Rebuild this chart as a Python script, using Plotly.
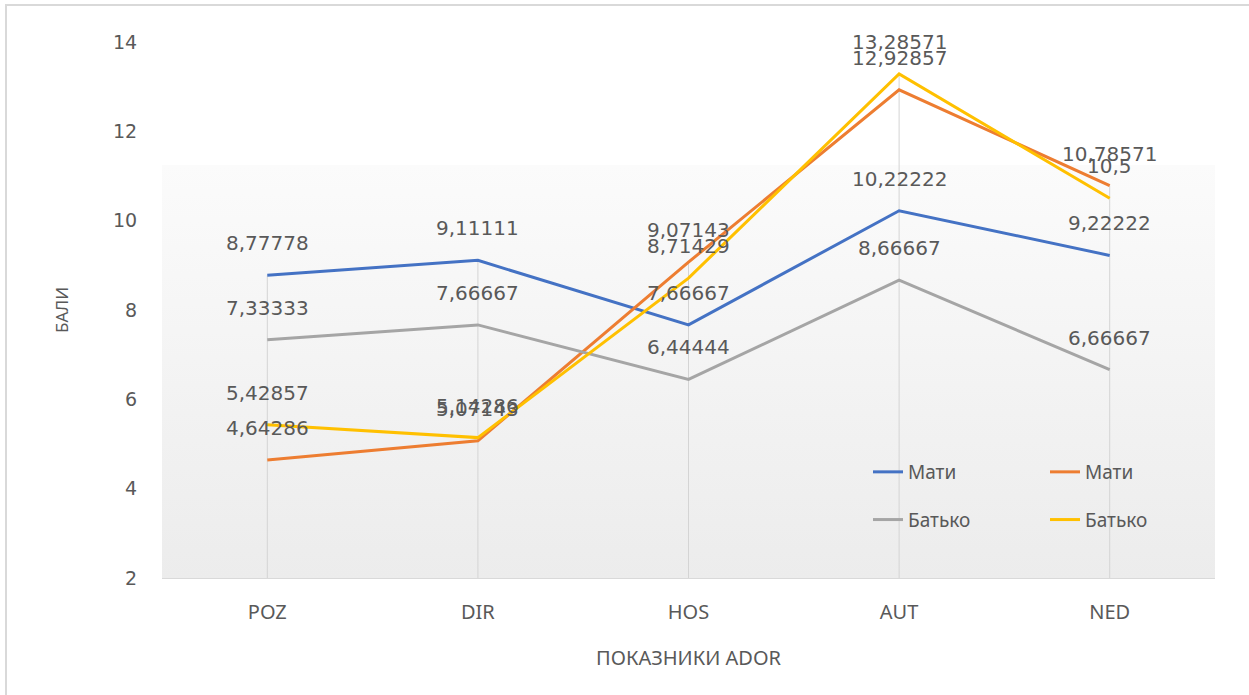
import base64
import plotly.graph_objects as go

# ---- data ----
categories = ["POZ", "DIR", "HOS", "AUT", "NED"]
mati_1 = [8.77778, 9.11111, 7.66667, 10.22222, 9.22222]
mati_2 = [4.64286, 5.07143, 9.07143, 12.92857, 10.78571]
batko_1 = [7.33333, 7.66667, 6.44444, 8.66667, 6.66667]
batko_2 = [5.42857, 5.14286, 8.71429, 13.28571, 10.5]
series_names = ["Мати", "Мати", "Батько", "Батько"]
y_ticks = [2, 4, 6, 8, 10, 12, 14]
x_title = "ПОКАЗНИКИ ADOR"
y_title = "БАЛИ"

# ---- figure geometry ----
W, H = 1249, 695
L, R, T, B = 162, 34, 42, 117
PW, PH = W - L - R, H - T - B


def px_x(p):
    return (p - L) / PW


def px_y(p):
    return (H - B - p) / PH


def fmt(v):
    s = ("%.5f" % v).rstrip("0").rstrip(".")
    return s.replace(".", ",")


series = [
    (series_names[0], mati_1, "#4472C4", "legend"),
    (series_names[1], mati_2, "#ED7D31", "legend2"),
    (series_names[2], batko_1, "#A5A5A5", "legend"),
    (series_names[3], batko_2, "#FFC000", "legend2"),
]

fig = go.Figure()

# drop lines from the highest value of each category to the axis
all_vals = [mati_1, mati_2, batko_1, batko_2]
dx, dy = [], []
for i, c in enumerate(categories):
    top = max(s[i] for s in all_vals)
    dx += [c, c, None]
    dy += [y_ticks[0], top, None]
fig.add_trace(go.Scatter(x=dx, y=dy, mode="lines", line=dict(color="#d4d4d4", width=1),
                         showlegend=False, hoverinfo="skip"))

for k, (name, vals, color, lg) in enumerate(series):
    fig.add_trace(go.Scatter(
        x=categories, y=vals, mode="lines", name=name,
        line=dict(color=color, width=3),
        legend=lg, legendgroup="g%d" % k, hoverinfo="skip"))

annotations = []
for name, vals, color, lg in series:
    for c, v in zip(categories, vals):
        annotations.append(dict(
            x=c, y=v, xref="x", yref="y", text=fmt(v), showarrow=False,
            yshift=32, font=dict(family="DejaVu Sans", size=20, color="#595959")))

svg = ('<svg xmlns="http://www.w3.org/2000/svg" width="100" height="100" preserveAspectRatio="none">'
       '<defs><linearGradient id="g" x1="0" y1="0" x2="0" y2="1">'
       '<stop offset="0" stop-color="#fbfbfb"/><stop offset="1" stop-color="#ececec"/>'
       '</linearGradient></defs><rect width="100" height="100" fill="url(#g)"/></svg>')
src = "data:image/svg+xml;base64," + base64.b64encode(svg.encode()).decode()
grad_top = px_y(165)

fig.update_layout(
    width=W, height=H,
    margin=dict(l=L, r=R, t=T, b=B),
    paper_bgcolor="white", plot_bgcolor="rgba(0,0,0,0)",
    font=dict(family="Noto Sans", color="#595959"),
    showlegend=True,
    images=[dict(source=src, xref="paper", yref="paper", x=0, y=grad_top,
                 sizex=1, sizey=grad_top, sizing="stretch", layer="below",
                 xanchor="left", yanchor="top")],
    shapes=[dict(type="rect", xref="paper", yref="paper",
                 x0=px_x(6), x1=px_x(1256), y0=px_y(5), y1=px_y(705),
                 line=dict(color="#d9d9d9", width=2), fillcolor="rgba(0,0,0,0)", layer="below")],
    annotations=annotations,
    xaxis=dict(type="category", range=[-0.5, len(categories) - 0.5],
               showgrid=False, zeroline=False, showline=True, linecolor="#d9d9d9", linewidth=1,
               ticks="outside", ticklen=16, tickcolor="rgba(0,0,0,0)",
               tickfont=dict(family="Noto Sans", size=20, color="#595959"),
               title=dict(text=x_title, standoff=26,
                          font=dict(family="Noto Sans", size=20, color="#595959"))),
    yaxis=dict(range=[y_ticks[0], y_ticks[-1]], tickvals=y_ticks,
               showgrid=False, zeroline=False, showline=False,
               ticks="outside", ticklen=20, tickcolor="rgba(0,0,0,0)",
               tickfont=dict(family="DejaVu Sans", size=19, color="#595959"),
               title=dict(text=y_title, standoff=40,
                          font=dict(family="Noto Sans", size=17, color="#595959"))),
    legend=dict(x=px_x(868), y=px_y(453), xanchor="left", yanchor="top",
                bgcolor="rgba(0,0,0,0)", tracegroupgap=20,
                font=dict(family="Noto Sans", size=19, color="#595959")),
    legend2=dict(x=px_x(1045), y=px_y(453), xanchor="left", yanchor="top",
                 bgcolor="rgba(0,0,0,0)", tracegroupgap=20,
                 font=dict(family="Noto Sans", size=19, color="#595959")),
)

fig.write_html("out.html", config={"displayModeBar": False},
               post_script="document.body.style.margin='0';")
